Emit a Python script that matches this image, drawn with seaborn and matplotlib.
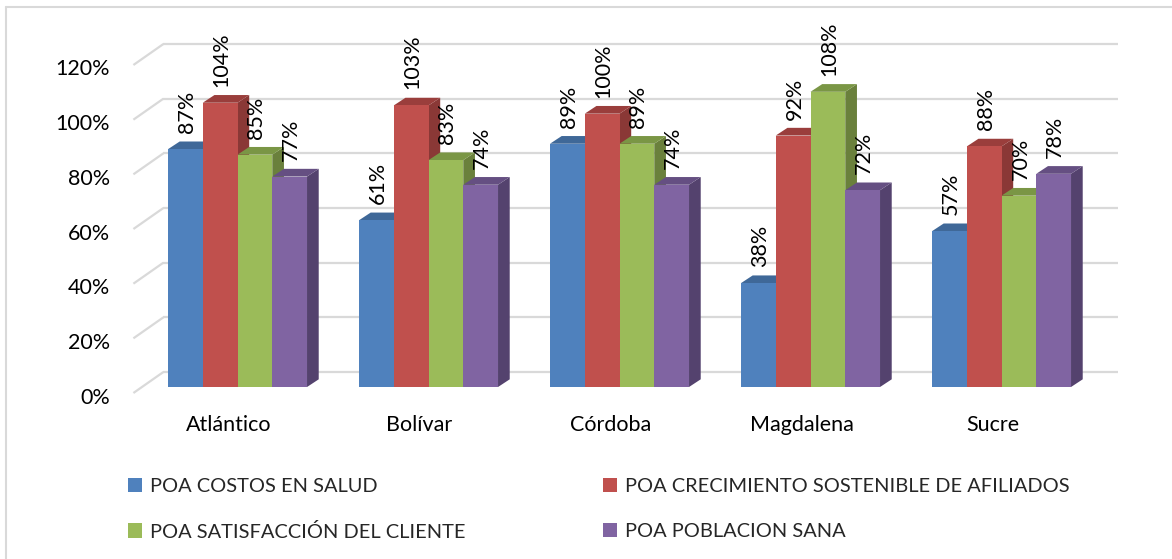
import numpy as np
import pandas as pd
import matplotlib
matplotlib.use("Agg")
import matplotlib.pyplot as plt
from matplotlib.patches import Polygon, Patch
from matplotlib.lines import Line2D
from matplotlib.transforms import ScaledTranslation
from matplotlib.ticker import PercentFormatter
import seaborn as sns

# Departments and indicators
departamentos = ["Atlántico", "Bolívar", "Córdoba", "Magdalena", "Sucre"]
indicadores = [
    "POA COSTOS EN SALUD",
    "POA CRECIMIENTO SOSTENIBLE DE AFILIADOS",
    "POA SATISFACCIÓN DEL CLIENTE",
    "POA POBLACION SANA",
]
costos_salud = [0.87, 0.61, 0.89, 0.38, 0.57]
crecimiento_afiliados = [1.04, 1.03, 1.00, 0.92, 0.88]
satisfaccion_cliente = [0.85, 0.83, 0.89, 1.08, 0.70]
poblacion_sana = [0.77, 0.74, 0.74, 0.72, 0.78]
y_ticks = [0, 0.2, 0.4, 0.6, 0.8, 1.0, 1.2]

front_colors = ["#4F81BD", "#C0504D", "#9BBB59", "#8064A2"]
top_colors = ["#3F6898", "#9A3E3C", "#7A9645", "#654F82"]
side_colors = ["#375A86", "#8A3836", "#6A803C", "#54426E"]

series = [costos_salud, crecimiento_afiliados, satisfaccion_cliente, poblacion_sana]
df = pd.DataFrame({
    "Departamento": np.repeat([departamentos], len(indicadores), axis=0).ravel(),
    "Indicador": np.repeat(indicadores, len(departamentos)),
    "Valor": np.concatenate(series),
})

sns.set_style("white")
plt.rcParams["font.family"] = ["Lato", "DejaVu Sans"]
FS = 15.5
FS_LEG = 14.4

W, H = 1172, 559
fig = plt.figure(figsize=(W / 100, H / 100), dpi=100)
fig.patch.set_facecolor("white")

# front plane of the bars, in pixels
left, right, base, top = 142, 1097, 387, 59
ax = fig.add_axes([left / W, (H - base) / H, (right - left) / W, (base - top) / H])
ax.patch.set_visible(False)

sns.barplot(data=df, x="Departamento", y="Valor", hue="Indicador",
            order=departamentos, hue_order=indicadores,
            palette=front_colors, saturation=1, width=0.728,
            linewidth=0, legend=False, ax=ax)
ax.set_xlim(-0.5, 4.5)
ax.set_ylim(0, 1.2)
for s in ax.spines.values():
    s.set_visible(False)
ax.set_xlabel("")
ax.set_ylabel("")

# pixel -> data conversion
p0 = ax.transData.transform((0, 0))
p1 = ax.transData.transform((1, 1))
ppx, ppy = p1[0] - p0[0], p1[1] - p0[1]


def sx(px):
    return px / ppx


def sy(py):
    return py / ppy


grid_kw = dict(color="#D9D9D9", lw=1.6, zorder=0.5, clip_on=False, solid_capstyle="butt")
# back wall and left wall gridlines
bx, by = sx(21.4), sy(15)
fx, fy = sx(-8.6), sy(-6)
for v in y_ticks:
    ax.add_line(Line2D([-0.5 + bx, 4.5 + bx], [v + by, v + by], **grid_kw))
    ax.add_line(Line2D([-0.5 + fx, -0.5 + bx], [v + fy, v + by], **grid_kw))

# bar depth
dx, dy = sx(11.7), sy(7.7)
bars = sorted(ax.patches, key=lambda p: p.get_x())
n_hue = len(indicadores)
for i, bar in enumerate(bars):
    k = i % n_hue
    x0, w, h = bar.get_x(), bar.get_width(), bar.get_height()
    z = 3 + i * 0.01
    bar.set_zorder(z)
    bar.set_clip_on(False)
    top_face = Polygon([(x0, h), (x0 + w, h), (x0 + w + dx, h + dy), (x0 + dx, h + dy)],
                       closed=True, facecolor=top_colors[k], edgecolor="none",
                       zorder=z - 0.005, clip_on=False)
    side_face = Polygon([(x0 + w, 0), (x0 + w, h), (x0 + w + dx, h + dy), (x0 + w + dx, dy)],
                        closed=True, facecolor=side_colors[k], edgecolor="none",
                        zorder=z - 0.005, clip_on=False)
    ax.add_patch(side_face)
    ax.add_patch(top_face)
    ax.annotate(f"{round(h * 100)}%", xy=(x0 + w / 2, h), xytext=(1.1, 11.5),
                textcoords="offset points", rotation=90, ha="center", va="bottom",
                fontsize=FS, color="black", zorder=10, annotation_clip=False)

# axis labels
ax.set_yticks(y_ticks)
ax.yaxis.set_major_formatter(PercentFormatter(1.0, decimals=0))
ax.tick_params(axis="y", length=0, pad=23, labelsize=FS, labelcolor="black")
ax.tick_params(axis="x", length=0, pad=20.5, labelsize=FS, labelcolor="black")
for lab in ax.get_yticklabels():
    lab.set_transform(lab.get_transform() + ScaledTranslation(0, -8.5 / 100, fig.dpi_scale_trans))
for lab in ax.get_xticklabels():
    lab.set_transform(lab.get_transform() + ScaledTranslation(-9 / 100, 0, fig.dpi_scale_trans))

# chart frame (left and top edges)
fig.add_artist(Line2D([6 / W, 6 / W], [0, 1 - 7 / H], transform=fig.transFigure, color="#D9D9D9", lw=1.5))
fig.add_artist(Line2D([6 / W, 1], [1 - 7 / H, 1 - 7 / H], transform=fig.transFigure, color="#D9D9D9", lw=1.5))

# legend in two columns
handles = [Patch(facecolor=c, edgecolor="none") for c in front_colors]
leg_kw = dict(frameon=False, fontsize=FS_LEG, handlelength=0.72, handleheight=0.72,
              handletextpad=0.36, labelspacing=1.37, borderpad=0, borderaxespad=0,
              loc="upper left")
leg1 = fig.legend([handles[0], handles[2]], [indicadores[0], indicadores[2]],
                  bbox_to_anchor=(128 / W, 1 - 478 / H), **leg_kw)
leg2 = fig.legend([handles[1], handles[3]], [indicadores[1], indicadores[3]],
                  bbox_to_anchor=(603 / W, 1 - 478 / H), **leg_kw)

fig.savefig("out.png", dpi=100, facecolor="white")
